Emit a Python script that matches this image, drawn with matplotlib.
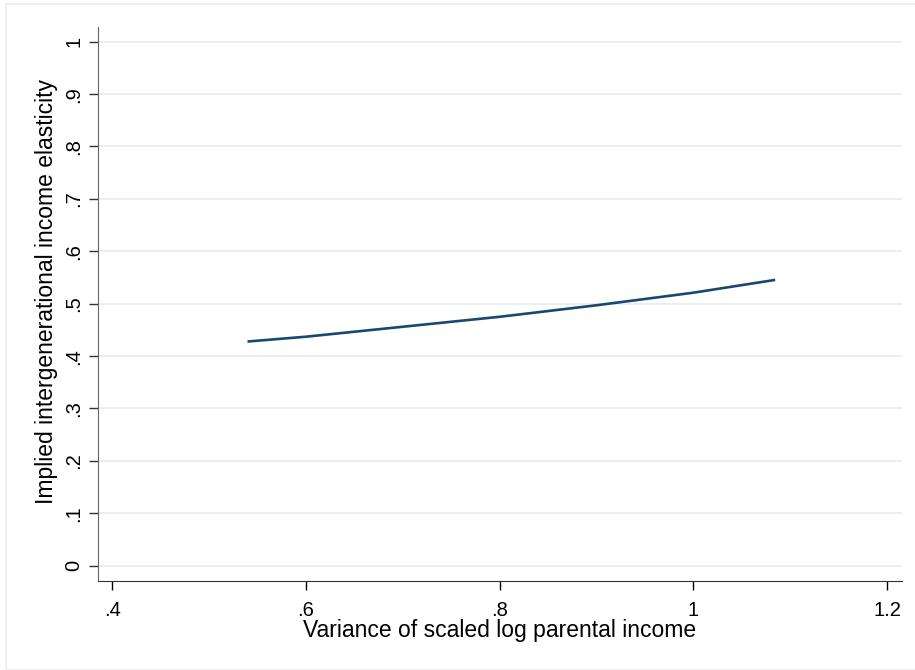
import numpy as np
import matplotlib
matplotlib.use('Agg')
import matplotlib.pyplot as plt
from matplotlib.patches import Rectangle

plt.rcParams['font.family'] = ['Liberation Sans', 'DejaVu Sans']

# values
var_parent = [0.541, 0.6, 0.7, 0.8, 0.9, 1.0, 1.083]
elasticity = [0.428, 0.437, 0.456, 0.475, 0.497, 0.521, 0.545]

xticks = [0.4, 0.6, 0.8, 1.0, 1.2]
xticklabels = ['.4', '.6', '.8', '1', '1.2']
yticks = [0, 0.1, 0.2, 0.3, 0.4, 0.5, 0.6, 0.7, 0.8, 0.9, 1.0]
yticklabels = ['0', '.1', '.2', '.3', '.4', '.5', '.6', '.7', '.8', '.9', '1']

fig = plt.figure(figsize=(9.15, 6.7), dpi=100)
fig.patches.append(Rectangle((6/915, 0), 1, 1 - 4/670, transform=fig.transFigure,
                             fill=False, edgecolor='#e9eef2', lw=1.2))
ax = fig.add_axes([0.1068, 0.1333, 0.8787, 0.8264])

ax.plot(var_parent, elasticity, color='#1a476f', lw=1.9)

ax.set_xlim(0.385, 1.215)
ax.set_ylim(-0.0286, 1.028)
ax.set_xticks(xticks)
ax.set_xticklabels(xticklabels)
ax.set_yticks(yticks)
ax.set_yticklabels(yticklabels, rotation=90, va='center')
ax.grid(axis='y', color='#e8eef2', lw=1.4)
ax.set_axisbelow(True)

for s in ['top', 'right']:
    ax.spines[s].set_visible(False)
ax.spines['left'].set_color('#666666')
ax.spines['bottom'].set_color('#333333')
ax.tick_params(direction='out', length=6.5, width=1, labelsize=14.5)
ax.tick_params(axis='x', pad=8)
ax.tick_params(axis='y', colors='#333333', labelcolor='black', pad=4)

ax.set_xlabel('Variance of scaled log parental income', fontsize=16.5, labelpad=-0.5)
ax.set_ylabel('Implied intergenerational income elasticity', fontsize=16.5)
ax.yaxis.set_label_coords(-0.05, 0.523)

fig.savefig('out.png', dpi=100)
